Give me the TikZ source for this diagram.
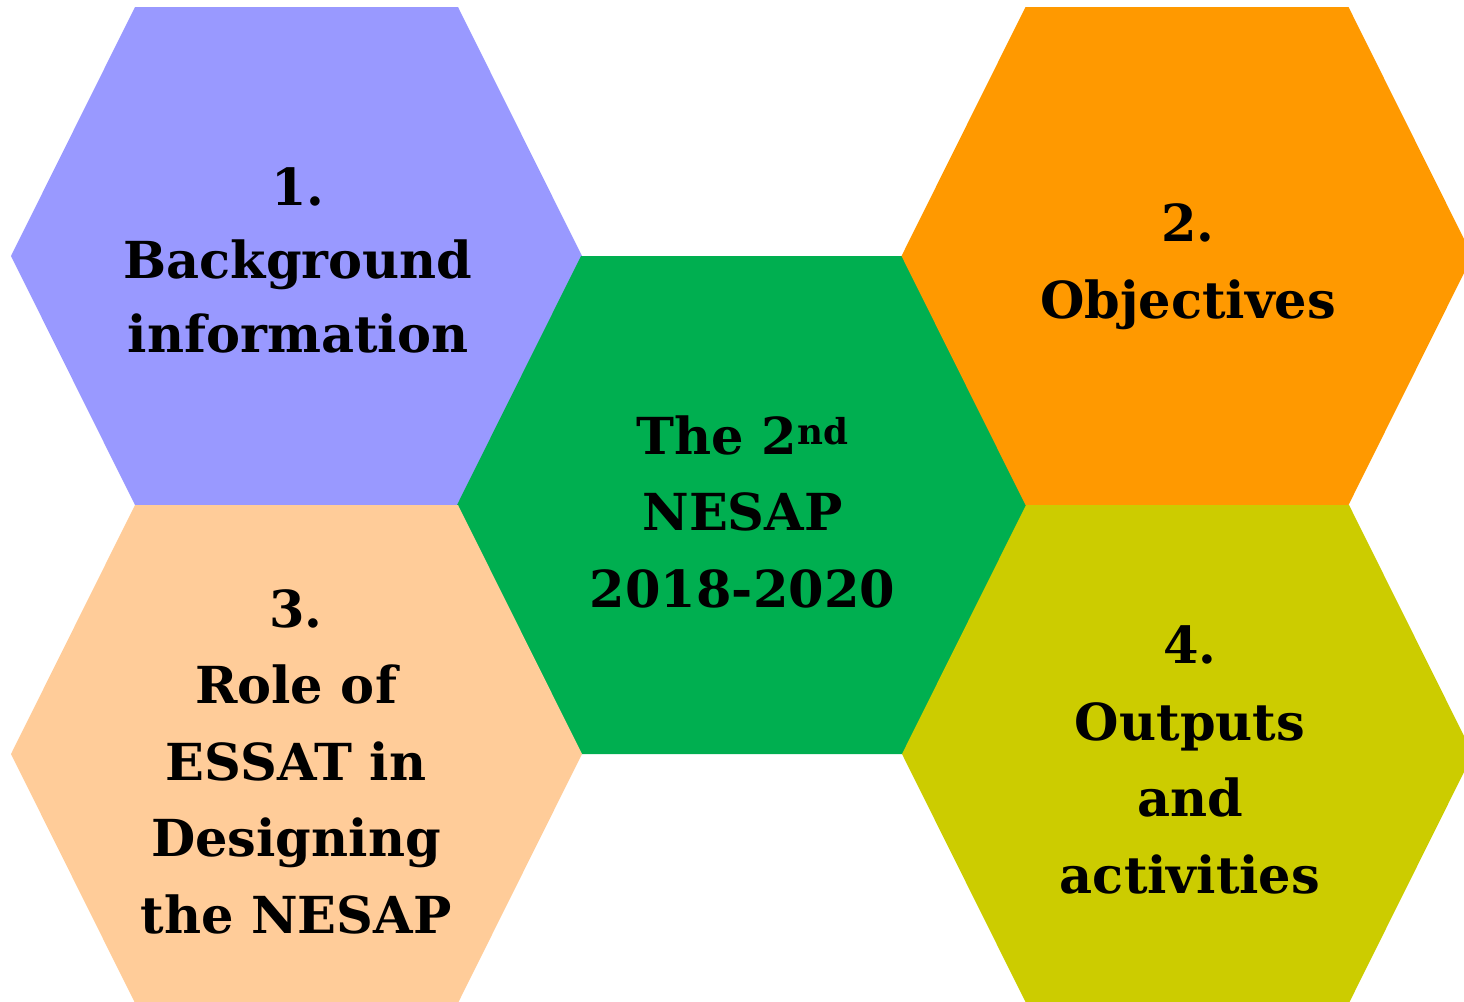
\documentclass[tikz,border=0pt]{standalone}
\usepackage{fontspec}
\setmainfont{DejaVu Serif}
\definecolor{hpurple}{HTML}{9999FF}
\definecolor{hgreen}{HTML}{00AF50}
\definecolor{horange}{HTML}{FF9900}
\definecolor{hpeach}{HTML}{FFCC99}
\definecolor{holive}{HTML}{CCCC00}
\newcommand\hexshape[3]{\fill[#3] ({#1-285.5},#2) -- ({#1-161.5},{#2-249}) -- ({#1+161.5},{#2-249}) -- ({#1+285.5},#2) -- ({#1+161.5},{#2+249}) -- ({#1-161.5},{#2+249}) -- cycle;}
\begin{document}
\begin{tikzpicture}[x=1pt,y=-1pt,
  lbl/.style={align=center,anchor=base,inner sep=0pt,text=black,font=\bfseries\fontsize{51}{76.5}\selectfont},
  lbltight/.style={lbl,font=\bfseries\fontsize{51}{73.5}\selectfont}]
\useasboundingbox (0,0) rectangle (1464,1001);
\begin{scope}
\clip (0,0) rectangle (1464,1001);
\hexshape{296.5}{256}{hpurple}
\hexshape{742.5}{505}{hgreen}
\hexshape{1187}{256}{horange}
\hexshape{296.5}{754}{hpeach}
\hexshape{1187.5}{754}{holive}
\end{scope}
% base anchor = baseline of the last line
\node[lbltight] (t1) at (298,352) {1.\\Background\\information};
\node[lbl] (tc) at (742.5,607) {The 2\textsuperscript{nd}\\NESAP\\2018-2020};
\node[lbl] (t2) at (1188,318) {2.\\Objectives};
\node[lbl] (t3) at (296,933) {3.\\Role of\\ESSAT in\\Designing\\the NESAP};
\node[lbl] (t4) at (1190,893) {4.\\Outputs\\and\\activities};
\end{tikzpicture}
\end{document}
